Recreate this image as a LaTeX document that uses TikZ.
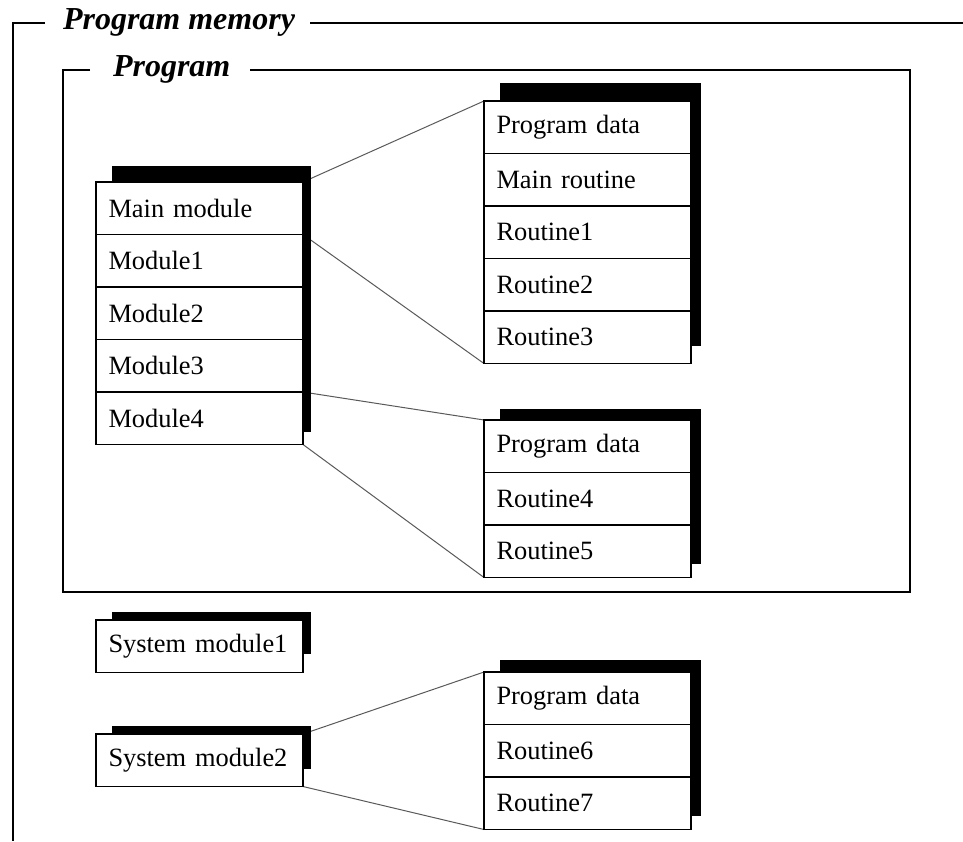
\documentclass[tikz,border=0pt]{standalone}
\usepackage{fontspec}
\setmainfont{Liberation Serif}
\usetikzlibrary{positioning,backgrounds,calc}

\tikzset{
  cell/.style={draw, rectangle, fill=white, line width=0.8pt, minimum height=26.25pt, text width=91pt, inner xsep=6.25pt, align=left, font=\fontsize{13.2}{15}\selectfont},
  frametitle/.style={anchor=base west, inner sep=0pt, font=\fontsize{16}{19}\selectfont\bfseries\itshape},
  frame/.style={line width=0.9pt},
  link/.style={draw=black!65, line width=0.5pt},
  blockshadow/.style={fill=black}
}

\begin{document}
\begin{tikzpicture}[x=0.5pt, y=0.5pt, node distance=0cm, outer sep=0pt]
    \useasboundingbox (0,0) rectangle (963,-841);

    % frames
    \node [frametitle] (memtitle) at (63,-29) {Program memory};
    \draw [frame] (45,-23) -| (13,-841);
    \draw [frame] (310,-23) -- (963,-23);
    \node [frametitle] (progtitle) at (113,-76) {Program};
    \draw [frame] (90,-70) -| (63,-592) -| (910,-70) -- (250,-70);

    % modules
    \node [cell, anchor=north west] (mainmod) at (96,-182) {Main module};
    \node [cell, below=of mainmod] (mod1) {Module1};
    \node [cell, below=of mod1] (mod2) {Module2};
    \node [cell, below=of mod2] (mod3) {Module3};
    \node [cell, below=of mod3] (mod4) {Module4};

    \node [cell, anchor=north west] (pdata1) at (484,-101) {Program data};
    \node [cell, below=of pdata1] (mainrt) {Main routine};
    \node [cell, below=of mainrt] (rt1) {Routine1};
    \node [cell, below=of rt1] (rt2) {Routine2};
    \node [cell, below=of rt2] (rt3) {Routine3};

    \node [cell, anchor=north west] (pdata2) at (484,-420) {Program data};
    \node [cell, below=of pdata2] (rt4) {Routine4};
    \node [cell, below=of rt4] (rt5) {Routine5};

    % system modules
    \node [cell, anchor=north west] (sysmod1) at (96,-620) {System module1};
    \node [cell, anchor=north west] (sysmod2) at (96,-734) {System module2};

    \node [cell, anchor=north west] (pdata3) at (484,-672) {Program data};
    \node [cell, below=of pdata3] (rt6) {Routine6};
    \node [cell, below=of rt6] (rt7) {Routine7};

    \begin{scope}[on background layer]
        \draw [link] (mainmod.north east) -- (pdata1.north west);
        \draw [link] (mainmod.south east) -- (rt3.south west);
        \draw [link] (mod4.north east) -- (pdata2.north west);
        \draw [link] (mod4.south east) -- (rt5.south west);
        \draw [link] (sysmod2.north east) -- (pdata3.north west);
        \draw [link] (sysmod2.south east) -- (rt7.south west);

        \fill [blockshadow] ([shift={(16,16)}]mainmod.north west) rectangle ([shift={(8,13)}]mod4.south east);
        \fill [blockshadow] ([shift={(16,18)}]pdata1.north west) rectangle ([shift={(10,18)}]rt3.south east);
        \fill [blockshadow] ([shift={(16,11)}]pdata2.north west) rectangle ([shift={(10,14)}]rt5.south east);
        \fill [blockshadow] ([shift={(16,8)}]sysmod1.north west) rectangle ([shift={(8,19)}]sysmod1.south east);
        \fill [blockshadow] ([shift={(16,8)}]sysmod2.north west) rectangle ([shift={(8,18)}]sysmod2.south east);
        \fill [blockshadow] ([shift={(16,12)}]pdata3.north west) rectangle ([shift={(10,14)}]rt7.south east);
    \end{scope}
\end{tikzpicture}
\end{document}
